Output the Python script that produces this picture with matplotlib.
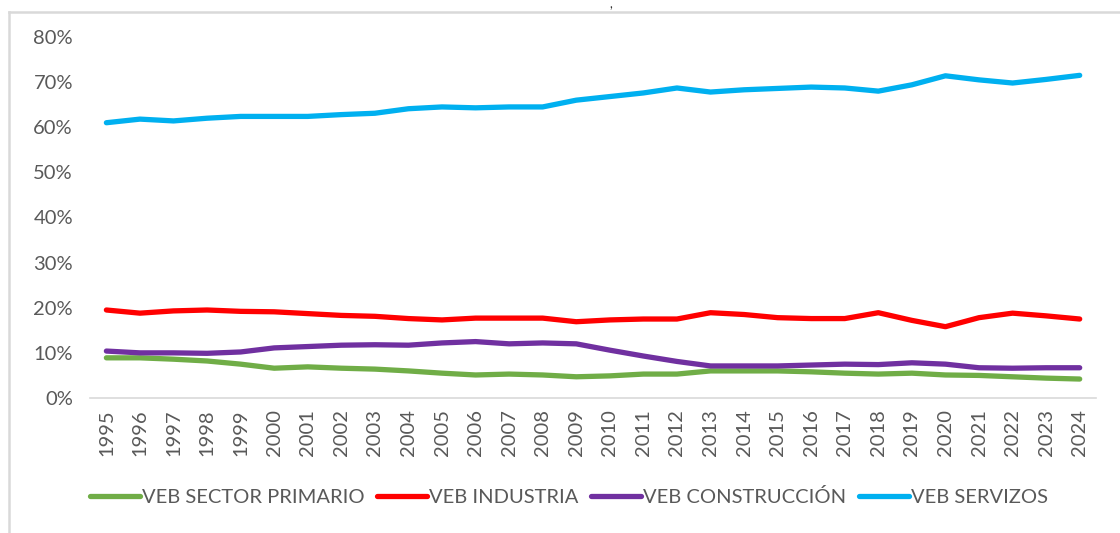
import matplotlib.pyplot as plt
from matplotlib.lines import Line2D
from matplotlib.ticker import PercentFormatter

plt.rcParams['font.family'] = ['Lato', 'DejaVu Sans']

years = list(range(1995, 2025))

primario = [8.9, 8.9, 8.6, 8.2, 7.5, 6.6, 6.9, 6.6, 6.4, 6.0,
            5.5, 5.1, 5.3, 5.1, 4.7, 4.9, 5.3, 5.3, 6.0, 6.0,
            6.0, 5.8, 5.5, 5.3, 5.5, 5.1, 5.0, 4.7, 4.4, 4.2]
industria = [19.5, 18.8, 19.3, 19.5, 19.2, 19.1, 18.7, 18.3, 18.1, 17.6,
             17.3, 17.7, 17.7, 17.7, 16.9, 17.3, 17.5, 17.5, 18.9, 18.5,
             17.8, 17.6, 17.6, 18.9, 17.2, 15.8, 17.8, 18.8, 18.2, 17.5]
construccion = [10.4, 10.0, 10.0, 9.9, 10.2, 11.1, 11.4, 11.7, 11.8, 11.7,
                12.2, 12.5, 12.0, 12.2, 12.0, 10.6, 9.3, 8.1, 7.1, 7.1,
                7.1, 7.3, 7.5, 7.4, 7.8, 7.5, 6.7, 6.6, 6.7, 6.7]
servizos = [61.0, 61.8, 61.4, 62.0, 62.4, 62.4, 62.4, 62.8, 63.1, 64.1,
            64.5, 64.3, 64.5, 64.5, 66.0, 66.8, 67.6, 68.7, 67.8, 68.3,
            68.6, 68.9, 68.7, 68.0, 69.4, 71.4, 70.5, 69.8, 70.6, 71.5]

labels = ["VEB SECTOR PRIMARIO", "VEB INDUSTRIA", "VEB CONSTRUCCIÓN", "VEB SERVIZOS"]
colors = ["#70AD47", "#FF0000", "#7030A0", "#00B0F0"]

fig = plt.figure(figsize=(11.2, 5.33), dpi=100)
ax = fig.add_axes([0.080, 0.2533, 0.899, 0.6773])

for vals, lab, col in zip([primario, industria, construccion, servizos], labels, colors):
    ax.plot(years, [v / 100 for v in vals], color=col, lw=3.8, label=lab,
            solid_capstyle='round', solid_joinstyle='round')

ax.set_xlim(1994.5, 2024.5)
ax.set_ylim(0, 0.8)
ax.set_yticks([i / 10 for i in range(9)])
ax.yaxis.set_major_formatter(PercentFormatter(1.0, decimals=0))
ax.set_xticks(years)
ax.set_xticklabels([str(y) for y in years], rotation=90)
ax.tick_params(axis='both', length=0, labelsize=14.5, labelcolor="#595959")
ax.tick_params(axis='x', pad=8)
ax.tick_params(axis='y', pad=12)
for s in ['top', 'right', 'left']:
    ax.spines[s].set_visible(False)
ax.spines['bottom'].set_color("#D9D9D9")
ax.spines['bottom'].set_linewidth(1.2)

leg = fig.legend(loc='center', bbox_to_anchor=(0.508, 0.067), ncol=4, frameon=False,
                 fontsize=14.5, handlelength=2.5, handletextpad=0.1, columnspacing=0.6)
for t in leg.get_texts():
    t.set_color("#595959")

# outer chart frame (left and top edges)
fig.add_artist(Line2D([0.008, 0.008], [0, 0.978], transform=fig.transFigure,
                      color="#D9D9D9", lw=1.8))
fig.add_artist(Line2D([0.008, 1.0], [0.978, 0.978], transform=fig.transFigure,
                      color="#D9D9D9", lw=1.8))
fig.text(0.545, 0.992, ",", fontsize=9, color="#333333", ha='center', va='center')

fig.savefig("out.png", dpi=100)
